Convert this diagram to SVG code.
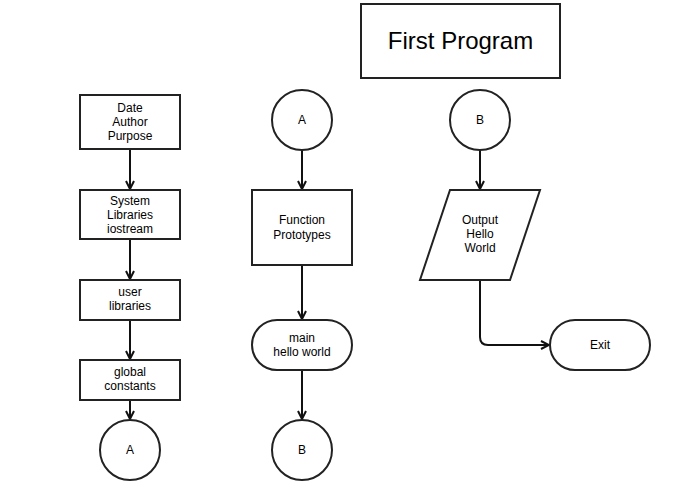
<svg xmlns="http://www.w3.org/2000/svg" width="676" height="500" viewBox="0 0 676 500">
<style>
.s{fill:#fff;stroke:#222;stroke-width:2}
.t{font-family:"Liberation Sans",Arial,sans-serif;font-size:12px;fill:#000;text-anchor:middle}
.c{fill:none;stroke:#111;stroke-width:2;marker-end:url(#ah)}
</style>
<defs>
<marker id="ah" viewBox="0 0 10 10" refX="9" refY="5" markerWidth="5" markerHeight="5" orient="auto" markerUnits="strokeWidth">
<path d="M1,1 L9,5 L1,9" fill="none" stroke="#111" stroke-width="2"/>
</marker>
</defs>
<rect width="676" height="500" fill="#fff"/>
<g id="connectors">
<path class="c" d="M130,149 V189"/>
<path class="c" d="M130,239 V279"/>
<path class="c" d="M130,320 V359"/>
<path class="c" d="M130,400 V419"/>
<path class="c" d="M302,150 V189"/>
<path class="c" d="M302,265 V319"/>
<path class="c" d="M302,370 V419"/>
<path class="c" d="M480,150 V189"/>
<path class="c" d="M480,280 V337 Q480,345 488,345 H549"/>
</g>
<g id="title"><rect class="s" x="361" y="4" width="199" height="74"/><text class="t" x="460.5" y="49" style="font-size:24px">First Program</text></g>
<g id="date"><rect class="s" x="80" y="95" width="100" height="54"/><text class="t" x="130" y="112">Date</text><text class="t" x="130" y="126">Author</text><text class="t" x="130" y="140">Purpose</text></g>
<g id="syslib"><rect class="s" x="80" y="190" width="100" height="49"/><text class="t" x="130" y="205">System</text><text class="t" x="130" y="219">Libraries</text><text class="t" x="130" y="233">iostream</text></g>
<g id="userlib"><rect class="s" x="80" y="280" width="100" height="40"/><text class="t" x="130" y="296">user</text><text class="t" x="130" y="310">libraries</text></g>
<g id="global"><rect class="s" x="80" y="360" width="100" height="40"/><text class="t" x="130" y="376">global</text><text class="t" x="130" y="390">constants</text></g>
<g id="connA1"><circle class="s" cx="130" cy="450" r="30"/><text class="t" x="130" y="454">A</text></g>
<g id="connA2"><circle class="s" cx="302" cy="120" r="30"/><text class="t" x="302" y="124">A</text></g>
<g id="proto"><rect class="s" x="252" y="190" width="100" height="75"/><text class="t" x="302" y="224">Function</text><text class="t" x="302" y="239">Prototypes</text></g>
<g id="main"><rect class="s" x="252" y="320" width="100" height="50" rx="25"/><text class="t" x="302" y="342">main</text><text class="t" x="302" y="356">hello world</text></g>
<g id="connB1"><circle class="s" cx="302" cy="450" r="30"/><text class="t" x="302" y="454">B</text></g>
<g id="connB2"><circle class="s" cx="480" cy="120" r="30"/><text class="t" x="480" y="124">B</text></g>
<g id="output"><polygon class="s" points="450,190 540,190 510,280 420,280"/><text class="t" x="480" y="224">Output</text><text class="t" x="480" y="238">Hello</text><text class="t" x="480" y="252">World</text></g>
<g id="exit"><rect class="s" x="550" y="320" width="100" height="50" rx="25"/><text class="t" x="600" y="349">Exit</text></g>
</svg>
